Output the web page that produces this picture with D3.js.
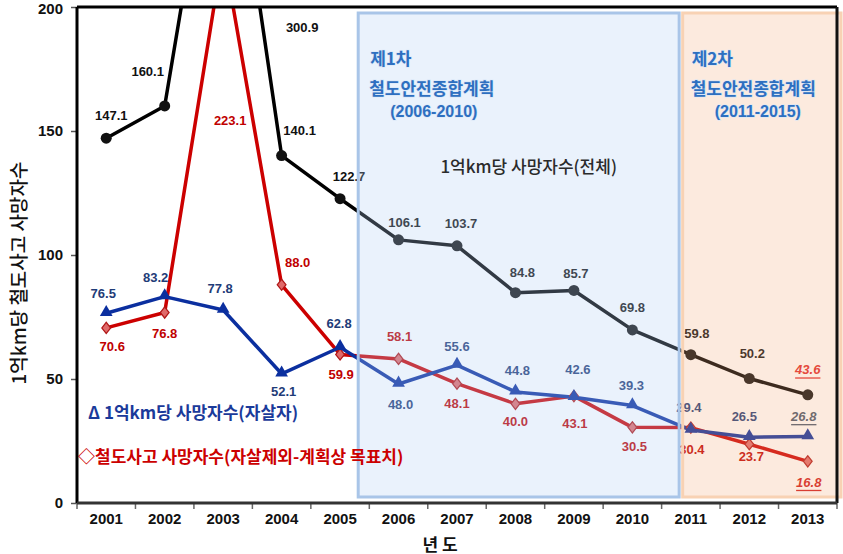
<!DOCTYPE html>
<html><head><meta charset="utf-8">
<script src="https://cdn.jsdelivr.net/npm/d3@7"></script>
<style>
html,body{margin:0;padding:0;background:#fff;}
svg{display:block;}
</style></head>
<body>
<script>
// ---- data ----
const years = [2001,2002,2003,2004,2005,2006,2007,2008,2009,2010,2011,2012,2013];
const totalDeaths = [147.1,160.1,300.9,140.1,122.7,106.1,103.7,84.8,85.7,69.8,59.8,50.2,43.6];
const suicideDeaths = [76.5,83.2,77.8,52.1,62.8,48.0,55.6,44.8,42.6,39.3,29.4,26.5,26.8];
const accidentTargets = [70.6,76.8,223.1,88.0,59.9,58.1,48.1,40.0,43.1,30.5,30.4,23.7,16.8];
const yTicks = [0,50,100,150,200];
const plan1 = {title:"제1차", name:"철도안전종합계획", period:"(2006-2010)", start:2006, end:2011};
const plan2 = {title:"제2차", name:"철도안전종합계획", period:"(2011-2015)", start:2011, end:2013};
const totalLabel = "1억km당 사망자수(전체)";
const suicideLabel = "Δ 1억km당 사망자수(자살자)";
const accidentLabel = "◇철도사고 사망자수(자살제외-계획상 목표치)";
const yTitle = "1억km당 철도사고 사망자수";
const xTitle = "년 도";

// ---- layout (label offsets relative to point; clipped points relative to plot top) ----
const totalOff = [[5,-23],[-17,-34],[79,20],[18,-25],[9,-22],[6,-17],[4,-22],[7,-20],[2,-17],[0,-22],[6,-21],[3,-25],[0,-25]];
const suicideOff = [[-3,-20],[-9,-19],[-3,-22],[2,18],[-1,-24],[2,21],[0,-19],[2,-21],[4,-28],[-1,-20],[-2,-23],[-5,-21],[-4,-20]];
const accidentOff = [[6,19],[0,21],[7,113],[16,-22],[1,20],[1,-22],[0,20],[0,18],[1,27],[2,19],[1,22],[2,12],[1,21]];

const W = 843, H = 554;
const L = 77, R = 837, T = 7, B = 503;
const svg = d3.select("body").append("svg").attr("width",W).attr("height",H);

const x = d3.scaleBand().domain(years).range([L,R]).padding(0);
const xc = y => x(y) + x.bandwidth()/2;
const yS = d3.scaleLinear().domain([0,200]).range([B,T]);

const numFont = "'Liberation Sans', Arial, 'Noto Sans CJK KR', sans-serif";
const korFont = "'Noto Sans CJK KR', 'Liberation Sans', sans-serif";

svg.append("defs").append("clipPath").attr("id","plotclip")
  .append("rect").attr("x",L).attr("y",T).attr("width",R-L).attr("height",B-T);

// axes
const yAxis = d3.axisLeft(yS).tickValues(yTicks).tickSize(6).tickPadding(8).tickFormat(d3.format("d"));
const gy = svg.append("g").attr("transform",`translate(${L},0)`).call(yAxis);
gy.select(".domain").remove();
gy.selectAll(".tick line").attr("stroke","#555").attr("stroke-width",1.5);
gy.selectAll(".tick text").attr("font-family",numFont).attr("font-weight","bold").attr("font-size",15).attr("fill","#111")
  .attr("dy",d => d===200 ? "0.4em" : "0.32em");

const xAxis = d3.axisBottom(x).tickSize(0).tickPadding(10);
const gx = svg.append("g").attr("transform",`translate(0,${B})`).call(xAxis);
gx.select(".domain").remove();
gx.selectAll(".tick text").attr("font-family",numFont).attr("font-weight","bold").attr("font-size",15).attr("fill","#111");
// boundary ticks
const bounds = years.map(d => x(d)).concat([R]);
svg.append("g").selectAll("line").data(bounds).join("line")
  .attr("x1",d=>d).attr("x2",d=>d).attr("y1",B).attr("y2",B+6)
  .attr("stroke","#666").attr("stroke-width",1.5);

// lines
const gPlot = svg.append("g").attr("clip-path","url(#plotclip)");
function drawSeries(vals, color, width){
  const line = d3.line().x((d,i)=>xc(years[i])).y(d=>yS(d));
  gPlot.append("path").datum(vals).attr("d",line).attr("fill","none")
    .attr("stroke",color).attr("stroke-width",width).attr("stroke-linejoin","round");
}
drawSeries(totalDeaths,"#000",3.5);
drawSeries(accidentTargets,"#cc0000",3.5);
drawSeries(suicideDeaths,"#0b2f9f",3.5);

// markers
gPlot.append("g").selectAll("circle").data(totalDeaths).join("circle")
  .attr("cx",(d,i)=>xc(years[i])).attr("cy",d=>yS(d)).attr("r",5.5).attr("fill","#111");
gPlot.append("g").selectAll("path").data(accidentTargets).join("path")
  .attr("d",d3.symbol(d3.symbolDiamond,50))
  .attr("transform",(d,i)=>`translate(${xc(years[i])},${yS(d)}) scale(1.15,0.85)`)
  .attr("fill","#e06a6a").attr("stroke","#b01818").attr("stroke-width",1.2);
gPlot.append("g").selectAll("path").data(suicideDeaths).join("path")
  .attr("d",d3.symbol(d3.symbolTriangle,70))
  .attr("transform",(d,i)=>`translate(${xc(years[i])},${yS(d)-1})`)
  .attr("fill","#0b2f9f");

// data labels
function labels(vals, offs, color, lastColor){
  svg.append("g").selectAll("text").data(vals).join("text")
    .attr("x",(d,i)=>xc(years[i])+offs[i][0])
    .attr("y",(d,i)=> d>200 ? T+offs[i][1] : yS(d)+offs[i][1])
    .attr("text-anchor","middle").attr("dominant-baseline","central")
    .attr("font-family",numFont).attr("font-weight","bold").attr("font-size",13)
    .attr("fill",(d,i)=> i===vals.length-1 ? lastColor : color)
    .attr("font-style",(d,i)=> i===vals.length-1 ? "italic" : "normal")
    .attr("text-decoration",(d,i)=> i===vals.length-1 ? "underline" : "none")
    .text(d=>d3.format(".1f")(d));
}
labels(totalDeaths,totalOff,"#111","#e02828");
labels(suicideDeaths,suicideOff,"#1f3c78","#44546a");
labels(accidentTargets,accidentOff,"#c00000","#d01818");

// plan boxes (overlay)
const bw = x.bandwidth();
const b1x0 = x(plan1.start) - 0.19*bw, b1x1 = xc(plan1.end) - 0.2*bw;
const b2x0 = xc(plan2.start) - 0.14*bw, b2x1 = R + 4;
const by0 = T + 6, by1 = B - 6;
svg.append("rect").attr("x",b1x0).attr("y",by0).attr("width",b1x1-b1x0).attr("height",by1-by0)
  .attr("fill","rgb(181,209,246)").attr("fill-opacity",0.28)
  .attr("stroke","#a9c5e8").attr("stroke-width",3);
svg.append("rect").attr("x",b2x0).attr("y",by0).attr("width",b2x1-b2x0).attr("height",by1-by0)
  .attr("fill","rgb(245,173,122)").attr("fill-opacity",0.25)
  .attr("stroke","#f8d2b4").attr("stroke-width",3);

// frame
svg.append("line").attr("x1",L).attr("x2",L).attr("y1",T).attr("y2",B).attr("stroke","#000").attr("stroke-width",3);
svg.append("line").attr("x1",L).attr("x2",R).attr("y1",T).attr("y2",T).attr("stroke","#000").attr("stroke-width",3);
svg.append("line").attr("x1",R).attr("x2",R).attr("y1",T).attr("y2",B).attr("stroke","#111").attr("stroke-width",3);
svg.append("line").attr("x1",L).attr("x2",R).attr("y1",B).attr("y2",B).attr("stroke","#333").attr("stroke-width",3);

// plan titles
function planText(p, x0, xp){
  const g = svg.append("g").attr("font-family",korFont).attr("font-weight","bold").attr("font-size",17)
    .attr("fill","#2e6fc0").attr("stroke","#d6e6f8").attr("stroke-width",1.2).attr("paint-order","stroke");
  g.append("text").attr("x",x0+1).attr("y",57).attr("dominant-baseline","central").text(p.title);
  g.append("text").attr("x",x0).attr("y",87).attr("dominant-baseline","central").text(p.name);
  g.append("text").attr("x",xp).attr("y",111).attr("dominant-baseline","central")
    .attr("font-family",numFont).attr("font-size",16).text(p.period);
}
planText(plan1, b1x0+11, b1x0+32);
planText(plan2, b2x0+8, b2x0+32);

svg.append("text").attr("x",(b1x0+b1x1)/2+10).attr("y",165).attr("text-anchor","middle")
  .attr("dominant-baseline","central").attr("font-family",korFont).attr("font-size",17)
  .attr("font-weight","500").attr("fill","#2b2b2b").text(totalLabel);

// legend texts
svg.append("text").attr("x",88).attr("y",411).attr("dominant-baseline","central")
  .attr("font-family",korFont).attr("font-weight","bold").attr("font-size",17)
  .attr("fill","#1a3a9a").text(suicideLabel);
svg.append("text").attr("x",78).attr("y",455).attr("dominant-baseline","central")
  .attr("font-family",korFont).attr("font-weight","bold").attr("font-size",17)
  .attr("fill","#cc0000").text(accidentLabel);

// axis titles
svg.append("text").attr("transform","translate(17,273) rotate(-90)").attr("text-anchor","middle")
  .attr("dominant-baseline","central").attr("font-family",korFont).attr("font-size",19)
  .attr("font-weight","500").attr("fill","#111").text(yTitle);
svg.append("text").attr("x",440).attr("y",543).attr("text-anchor","middle")
  .attr("dominant-baseline","central").attr("font-family",korFont).attr("font-size",17)
  .attr("font-weight","bold").attr("fill","#111").text(xTitle);
</script>
</body></html>
